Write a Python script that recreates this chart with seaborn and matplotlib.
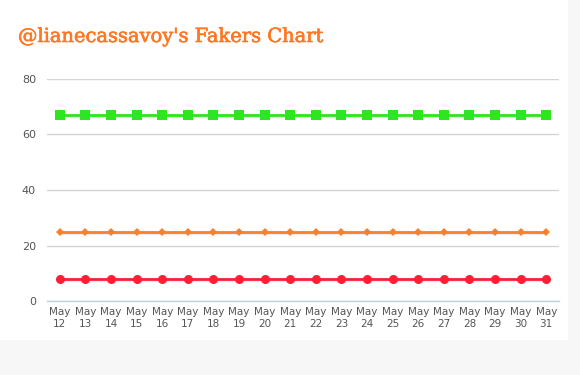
import matplotlib
matplotlib.use("Agg")
import matplotlib.pyplot as plt
import matplotlib.patheffects as pe
import seaborn as sns
import pandas as pd
from matplotlib.patches import Rectangle

days = [f"May\n{d}" for d in range(12, 32)]
green_vals = [67] * 20
orange_vals = [25] * 20
red_vals = [8] * 20
series_names = ["Series A", "Series B", "Series C"]
colors = {"Series A": "#2fe61e", "Series B": "#ff7f27", "Series C": "#ff1f35"}
markers = {"Series A": "s", "Series B": "D", "Series C": "o"}
y_ticks = [0, 20, 40, 60, 80]

rows = []
for name, vals in zip(series_names, [green_vals, orange_vals, red_vals]):
    for i, v in enumerate(vals):
        rows.append({"idx": i, "value": v, "series": name})
df = pd.DataFrame(rows)

sns.set_style("white")
plt.rcParams["font.family"] = ["DejaVu Sans"]

fig = plt.figure(figsize=(5.8, 3.75), dpi=100)
fig.patch.set_facecolor("#f7f7f7")
fig.patches.append(Rectangle((0, 1 - 340 / 375), 568 / 580, 340 / 375,
                             transform=fig.transFigure, facecolor="white",
                             edgecolor="none", zorder=-10))
ax = fig.add_axes([47 / 580, (375 - 301) / 375, 512 / 580, 222 / 375])
ax.set_facecolor("none")

# subtle shadow lines
for name, vals in zip(series_names, [green_vals, orange_vals, red_vals]):
    ax.plot(range(len(vals)), [v - 0.45 for v in vals], color="#000000",
            alpha=0.08, lw=3, zorder=1)

sns.lineplot(data=df, x="idx", y="value", hue="series", style="series",
             palette=colors, markers=markers, dashes=False, ax=ax,
             linewidth=2, markersize=6.5, markeredgewidth=0, legend=False, zorder=3)
for line in ax.lines:
    if line.get_marker() == "D":
        line.set_markersize(4.5)

ax.set_xlim(-0.5, len(days) - 0.5)
ax.set_ylim(0, 80)
ax.set_yticks(y_ticks)
ax.set_yticklabels([str(t) for t in y_ticks])
ax.yaxis.grid(True, color="#d4d4d4", linewidth=1)
ax.set_axisbelow(True)
ax.set_xticks(range(len(days)))
ax.set_xticklabels(days, linespacing=1.35)
ax.set_xticks([i - 0.5 for i in range(len(days) + 1)], minor=True)
ax.tick_params(axis="x", which="major", length=0, pad=4, labelsize=7.5, labelcolor="#555555")
ax.tick_params(axis="x", which="minor", length=5, color="#c0d0e0", width=1, direction="out")
ax.tick_params(axis="y", length=0, pad=8, labelsize=8, labelcolor="#555555")
ax.set_xlabel("")
ax.set_ylabel("")
for s in ["left", "right", "top"]:
    ax.spines[s].set_visible(False)
ax.spines["bottom"].set_color("#c0d0e0")
ax.spines["bottom"].set_linewidth(1)

fig.text(18 / 580, 1 - 42 / 375, "@lianecassavoy's Fakers Chart", color="#ff7722",
         fontsize=14, family="DejaVu Serif", ha="left", va="baseline",
         path_effects=[pe.withStroke(linewidth=0.45, foreground="#ff7722")])

fig.savefig("out.png", dpi=100, facecolor=fig.get_facecolor())
